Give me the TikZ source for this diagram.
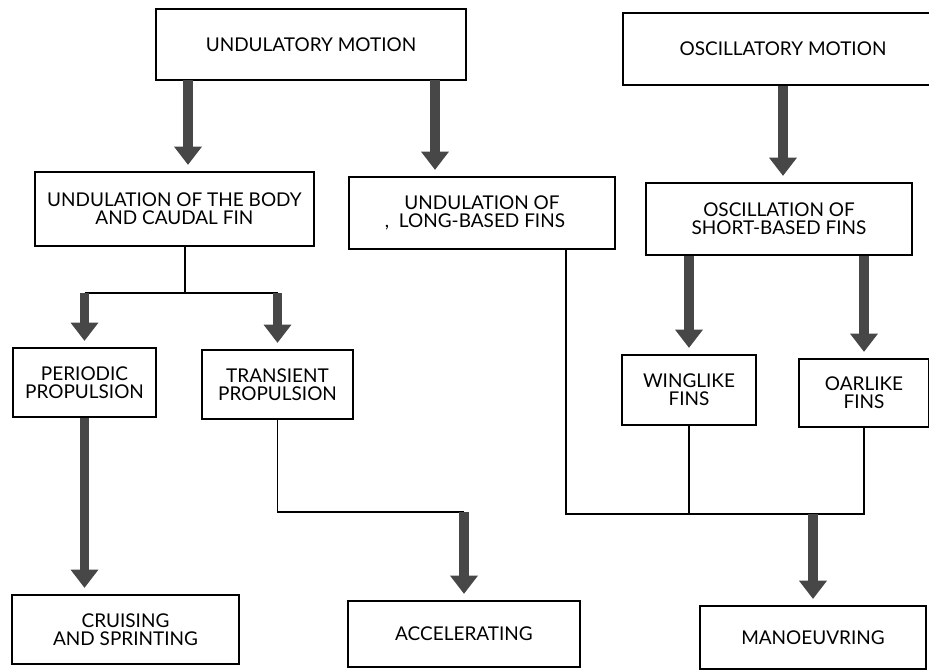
\documentclass[tikz,border=0pt]{standalone}
\usepackage{fontspec}
\setmainfont{Lato}
\usetikzlibrary{arrows.meta}

\begin{document}
\begin{tikzpicture}[
  box/.style={draw, line width=1.1pt, align=center, inner sep=0pt,
    font=\fontsize{13.5}{13}\selectfont},
  fat/.style={line width=7pt, draw=black!72, shorten >=4.5pt,
    -{Triangle[width=19pt,length=13pt]}},
  thin/.style={line width=0.9pt}
]
\useasboundingbox (0,0) rectangle (23.225,-16.8);
\clip (0,0) rectangle (23.225,-16.8);

% motions
\node[box, minimum width=7.75cm, minimum height=1.775cm] (um) at (7.775,-1.11) {UNDULATORY MOTION};
\node[box, minimum width=8cm, minimum height=1.8cm] (om) at (19.575,-1.225) {OSCILLATORY MOTION};

% second row
\node[box, minimum width=6.975cm, minimum height=1.85cm] (ubody) at (4.36,-5.225) {UNDULATION OF THE BODY\\AND CAUDAL FIN};
\node[box, minimum width=6.65cm, minimum height=1.8cm] (ulong) at (12.05,-5.325) {UNDULATION OF\\\llap{,\ \ }LONG-BASED FINS};
\node[box, minimum width=6.65cm, minimum height=1.8cm] (oshort) at (19.475,-5.475) {OSCILLATION OF\\SHORT-BASED FINS};

% third row
\node[box, minimum width=3.575cm, minimum height=1.725cm] (periodic) at (2.1125,-9.5625) {PERIODIC\\PROPULSION};
\node[box, minimum width=3.775cm, minimum height=1.725cm] (transient) at (6.9375,-9.6125) {TRANSIENT\\PROPULSION};
\node[box, minimum width=3.35cm, minimum height=1.75cm] (winglike) at (17.225,-9.75) {WINGLIKE\\FINS};
\node[box, minimum width=3.25cm, minimum height=1.7cm] (oarlike) at (21.6,-9.825) {OARLIKE\\FINS};

% results
\node[box, minimum width=5.675cm, minimum height=1.725cm] (cruising) at (3.1375,-15.7375) {CRUISING\\AND SPRINTING};
\node[box, minimum width=5.8cm, minimum height=1.65cm] (accel) at (11.6,-15.85) {ACCELERATING};
\node[box, minimum width=5.65cm, minimum height=1.575cm] (manoeuv) at (20.325,-15.94) {MANOEUVRING};

% junction points
\coordinate (ua) at (4.7,-2.0);
\coordinate (ub) at (10.875,-2.0);
\coordinate (bj) at (4.625,-7.325);
\coordinate (tj) at (11.6,-12.8);
\coordinate (mj) at (20.325,-12.85);

% arrows out of the motions
\draw[fat] (ua) -- (ua |- ubody.north);
\draw[fat] (ub) -- (ub |- ulong.north);
\draw[fat] (om.south) -- (om.south |- oshort.north);

% body and caudal fin
\draw[thin] (bj |- ubody.south) -- (bj);
\draw[thin] (bj -| periodic.north) -- (bj -| transient.north);
\draw[fat] (bj -| periodic.north) -- (periodic.north);
\draw[fat] (bj -| transient.north) -- (transient.north);
\draw[fat] (periodic.south) -- (periodic.south |- cruising.north);
\draw[thin] (transient.south) |- (tj);
\draw[fat] (tj) -- (accel.north);

% fins
\draw[fat] (winglike.north |- oshort.south) -- (winglike.north);
\draw[fat] (oarlike.north |- oshort.south) -- (oarlike.north);
\draw[thin] ([xshift=2.1cm]ulong.south) |- (oarlike.south |- mj) -- (oarlike.south);
\draw[thin] (winglike.south) -- (winglike.south |- mj);
\draw[fat] (mj) -- (manoeuv.north);
\end{tikzpicture}
\end{document}
